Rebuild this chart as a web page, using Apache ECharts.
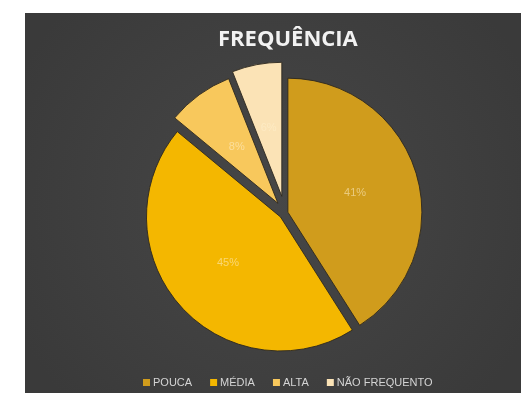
<!DOCTYPE html>
<html>
<head>
<meta charset="utf-8">
<script src="https://cdn.jsdelivr.net/npm/echarts@6/dist/echarts.min.js"></script>
<style>
  html, body { margin: 0; padding: 0; background: #ffffff; }
  #wrap { position: relative; width: 521px; height: 393px; background: #ffffff; overflow: hidden; }
  #chart { position: absolute; left: 25px; top: 13px; width: 496px; height: 380px; }
</style>
</head>
<body>
<div id="wrap"><div id="chart"></div></div>
<script>
const titleText = 'FREQUÊNCIA';
const categories = ['POUCA', 'MÉDIA', 'ALTA', 'NÃO FREQUENTO'];
const values = [41, 45, 8, 6];
const colors = ['#D09C1C', '#F4B700', '#F8C85C', '#FBE3B6'];
const explode = [3, 6, 12, 17];

const chart = echarts.init(document.getElementById('chart'), null, { renderer: 'canvas' });

const series = categories.map(function (cat, i) {
  return {
    type: 'pie',
    name: cat,
    center: [260, 200],
    radius: [0, 134],
    startAngle: 90,
    clockwise: true,
    selectedMode: 'multiple',
    selectedOffset: explode[i],
    avoidLabelOverlap: false,
    animation: false,
    silent: true,
    emphasis: { disabled: true },
    label: {
      show: true,
      position: 'inside',
      formatter: '{c}%',
      color: 'rgba(255,240,205,0.55)',
      fontSize: 11,
      fontFamily: 'Liberation Sans, Arial, sans-serif'
    },
    labelLine: { show: false },
    data: values.map(function (v, j) {
      const own = j === i;
      return {
        name: categories[j],
        value: v,
        selected: own,
        itemStyle: own
          ? { color: colors[j], borderColor: 'rgba(45,40,30,0.9)', borderWidth: 1 }
          : { color: colors[j], opacity: 0 },
        label: { show: own },
        select: {
          itemStyle: { color: colors[j], borderColor: 'rgba(45,40,30,0.9)', borderWidth: 1, opacity: own ? 1 : 0 },
          label: { show: own }
        }
      };
    })
  };
});

chart.setOption({
  backgroundColor: {
    type: 'radial', x: 0.5, y: 0.5, r: 0.75,
    colorStops: [
      { offset: 0, color: '#474747' },
      { offset: 1, color: '#3a3a3a' }
    ]
  },
  title: {
    text: titleText,
    left: 188,
    top: 11,
    textStyle: {
      color: '#f2f2f2',
      fontSize: 22,
      fontWeight: 'bold',
      fontFamily: 'Open Sans, Liberation Sans, sans-serif'
    }
  },
  legend: {
    left: 118,
    top: 364,
    padding: 0,
    icon: 'rect',
    itemWidth: 7,
    itemHeight: 7,
    itemGap: 18,
    selectedMode: false,
    textStyle: {
      color: '#d4d4d4',
      fontSize: 11,
      fontFamily: 'Liberation Sans, Arial, sans-serif',
      padding: [0, 0, 0, -2]
    },
    data: categories.map(function (c, j) {
      return { name: c, itemStyle: { color: colors[j], opacity: 1, borderWidth: 0 } };
    })
  },
  series: series
});
</script>
</body>
</html>
